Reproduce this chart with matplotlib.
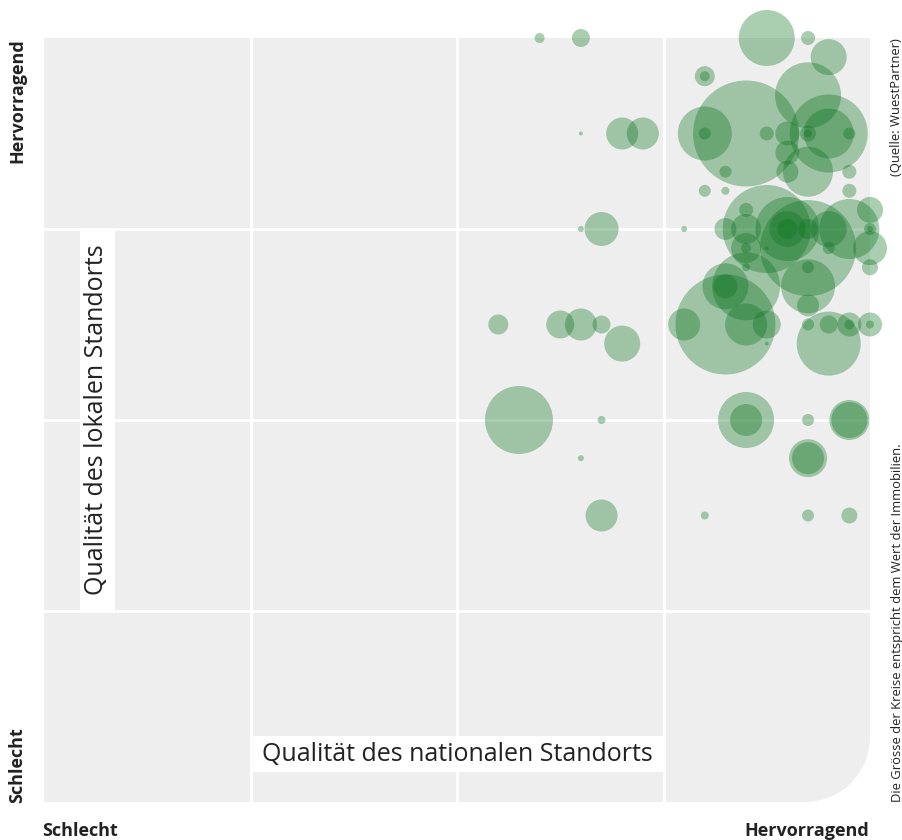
import numpy as np
import matplotlib
matplotlib.use("Agg")
import matplotlib.pyplot as plt
from matplotlib.patches import Polygon, Rectangle

plt.rcParams['font.family'] = ['Open Sans', 'DejaVu Sans']

# Qualität nationaler Standort (x), lokaler Standort (y), Wert (Kreisfläche)
national = [2.4, 2.6, 3.5, 3.7,
            3.8,
            3.2, 3.2,
            3.7,
            2.6, 2.8, 2.9, 3.2, 3.2, 3.4, 3.5, 3.6, 3.7, 3.7, 3.8, 3.8, 3.9,
            3.6,
            3.3, 3.6, 3.7, 3.9,
            3.2, 3.3, 3.9,
            3.4, 4.0,
            2.6, 2.7, 3.1, 3.3, 3.4, 3.5, 3.6, 3.6, 3.6, 3.7, 3.8, 3.9, 4.0, 4.0,
            3.4, 3.4, 3.5, 3.7, 3.8, 4.0,
            3.4, 3.7, 4.0,
            3.3, 3.3, 3.4, 3.7,
            3.7,
            2.2, 2.5, 2.6, 2.7, 3.1, 3.3, 3.4, 3.5, 3.7, 3.8, 3.9, 3.9, 4.0, 4.0,
            2.8, 3.5, 3.8,
            2.3, 2.7, 3.4, 3.4, 3.7, 3.9, 3.9,
            2.6, 3.7, 3.7,
            2.7, 3.2, 3.7, 3.9]
lokal = [4.0, 4.0, 4.0, 4.0,
         3.9,
         3.8, 3.8,
         3.7,
         3.5, 3.5, 3.5, 3.5, 3.5, 3.5, 3.5, 3.5, 3.5, 3.5, 3.5, 3.5, 3.5,
         3.4,
         3.3, 3.3, 3.3, 3.3,
         3.2, 3.2, 3.2,
         3.1, 3.1,
         3.0, 3.0, 3.0, 3.0, 3.0, 3.0, 3.0, 3.0, 3.0, 3.0, 3.0, 3.0, 3.0, 3.0,
         2.9, 2.9, 2.9, 2.9, 2.9, 2.9,
         2.8, 2.8, 2.8,
         2.7, 2.7, 2.7, 2.7,
         2.6,
         2.5, 2.5, 2.5, 2.5, 2.5, 2.5, 2.5, 2.5, 2.5, 2.5, 2.5, 2.5, 2.5, 2.5,
         2.4, 2.4, 2.4,
         2.0, 2.0, 2.0, 2.0, 2.0, 2.0, 2.0,
         1.8, 1.8, 1.8,
         1.5, 1.5, 1.5, 1.5]
wert = [25, 81, 784, 49,
        324,
        100, 25,
        1089,
        4, 256, 256, 729, 36, 2809, 49, 144, 64, 16, 1521, 625, 36,
        144,
        36, 121, 625, 49,
        36, 16, 49,
        49, 169,
        9, 289, 9, 121, 225, 1936, 1024, 324, 100, 100, 324, 900, 36, 9,
        225, 25, 4, 2304, 36, 289,
        16, 36, 64,
        529, 144, 1156, 729,
        121,
        100, 196, 256, 81, 256, 2500, 441, 196, 36, 81, 144, 25, 144, 16,
        324, 4, 1024,
        1156, 16, 784, 256, 36, 400, 324,
        9, 361, 256,
        256, 16, 36, 64]

fig = plt.figure(figsize=(9.02, 8.40), dpi=100)
W, H = 902, 840
x0, x1, y0, y1 = 44, 870, 38, 802
ax = fig.add_axes([x0 / W, (H - y1) / H, (x1 - x0) / W, (y1 - y0) / H])
ax.set_xlim(0, 4)
ax.set_ylim(0, 4)
ax.set_facecolor('none')
ax.set_xticks([])
ax.set_yticks([])
for sp in ax.spines.values():
    sp.set_visible(False)

# grauer Hintergrund mit abgerundeter Ecke unten rechts
rx, ry = 65 / (x1 - x0), 65 / (y1 - y0)
t = np.linspace(0, -np.pi / 2, 30)
arc = np.column_stack([1 - rx + rx * np.cos(t), ry + ry * np.sin(t)])
verts = np.vstack([[[0, 0], [0, 1], [1, 1]], arc])
ax.add_patch(Polygon(verts, closed=True, transform=ax.transAxes,
                     facecolor='#eeeeee', edgecolor='none', zorder=0))

for v in [1, 2, 3]:
    ax.axvline(v, color='white', lw=2, zorder=1)
    ax.axhline(v, color='white', lw=2, zorder=1)

# Achsentitel in weissen Kästen
ax.add_patch(Rectangle((1, 0.157), 2, 0.189, facecolor='white', edgecolor='none', zorder=2))
ax.text(2, 0.25, 'Qualität des nationalen Standorts', ha='center', va='center',
        fontsize=18, color='#222222', zorder=3)
ax.add_patch(Rectangle((0.174, 1), 0.17, 2, facecolor='white', edgecolor='none', zorder=2))
ax.text(0.255, 2, 'Qualität des lokalen Standorts', ha='center', va='center',
        rotation=90, fontsize=18, color='#222222', zorder=3)

sizes = np.array(wert) * (0.72 * 2) ** 2
ax.scatter(national, lokal, s=sizes, color='#0a731e', alpha=0.35,
           edgecolors='none', clip_on=False, zorder=4)

fig.text(17 / W, 1 - 38 / H, 'Hervorragend', rotation=90, ha='center', va='top',
         fontsize=13, fontweight='bold', color='#222222')
fig.text(17 / W, 1 - 803 / H, 'Schlecht', rotation=90, ha='center', va='bottom',
         fontsize=13, fontweight='bold', color='#222222')
fig.text(42 / W, 1 - 831 / H, 'Schlecht', ha='left', va='center',
         fontsize=13, fontweight='bold', color='#222222')
fig.text(869 / W, 1 - 831 / H, 'Hervorragend', ha='right', va='center',
         fontsize=13, fontweight='bold', color='#222222')
fig.text(897 / W, 1 - 38 / H, '(Quelle: WuestPartner)', rotation=90, ha='center',
         va='top', fontsize=9.4, color='#222222')
fig.text(897 / W, 1 - 802 / H, 'Die Grösse der Kreise entspricht dem Wert der Immobilien.',
         rotation=90, ha='center', va='bottom', fontsize=9.4, color='#222222')

fig.savefig('out.png', dpi=100)
